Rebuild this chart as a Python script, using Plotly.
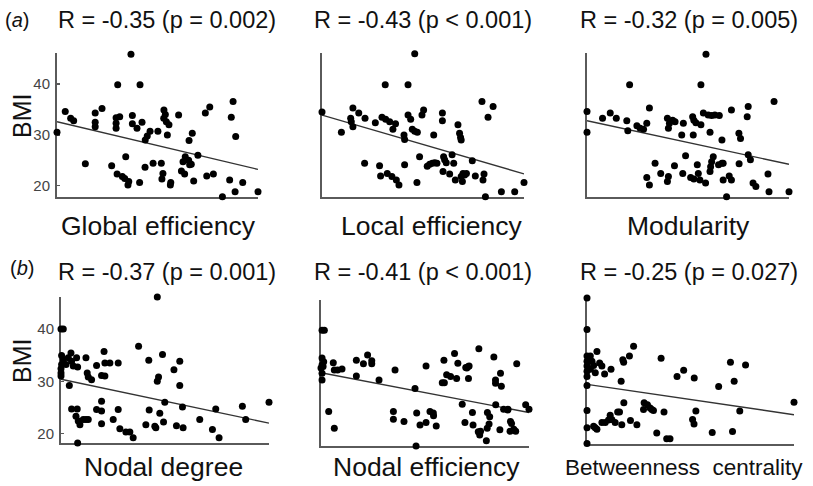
import plotly.graph_objects as go

# ---------------- data (x in % of axis length, y = BMI) ----------------
ge_x = [0, 4.1, 6.8, 8.3, 14.1, 19.0, 19.0, 19.0, 22.4, 27.2, 29.9, 30.2, 29.4, 29.4, 29.4,
        31.2, 32.5, 33.7, 34.2, 35.3, 35.7, 36.8, 37.5, 37.5, 39.8, 41.1, 41.3, 42.3, 43.8,
        43.9, 44.9, 46.3, 47.8, 50.2, 51.9, 52.2, 52.7, 53.1, 53.2, 53.9, 54.4, 54.9, 55.7,
        56.4, 56.6, 60.5, 61.9, 62.7, 63.5, 63.8, 65.5, 65.7, 67.3, 66.0, 66.8, 68.0, 70.1,
        73.8, 74.5, 76.0, 77.8, 82.3, 85.9, 86.7, 87.6, 88.6, 88.9, 92.4, 100]
ge_y = [30.5, 34.6, 33.3, 32.8, 24.3, 34.3, 32.5, 31.6, 35.2, 23.9, 22.3, 39.9, 33.4, 32.3, 31.3,
        33.6, 21.8, 21.4, 25.7, 20.1, 20.8, 45.9, 33.8, 32.2, 31.3, 20.6, 39.9, 32.5, 23.6,
        29.0, 29.8, 30.7, 24.4, 30.7, 24.4, 21.3, 22.4, 33.3, 34.9, 34.0, 32.6, 30.0, 32.0,
        20.1, 20.6, 33.9, 22.9, 24.7, 22.3, 25.7, 25.0, 28.9, 30.3, 24.1, 24.2, 20.9, 26.0,
        34.3, 21.9, 35.5, 22.3, 17.8, 21.1, 33.5, 36.6, 18.8, 29.7, 20.6, 18.8]
ge_fit = [32.6, 23.2]

le_x = [0, 9.6, 14.2, 15.3, 14.5, 15.3, 18.2, 21.3, 21.1, 26.4, 28.5, 29.0, 29.7, 31.3, 31.5,
        32.3, 33.5, 34.6, 35.1, 36.4, 36.8, 38.1, 40.6, 40.9, 40.9, 42.6, 42.6, 43.9, 44.7,
        45.9, 47.2, 45.9, 47.0, 48.3, 49.5, 50.3, 52.1, 53.3, 54.6, 55.8, 56.9, 55.3, 59.6,
        59.6, 59.9, 60.2, 60.7, 61.5, 63.2, 64.4, 65.2, 66.0, 67.3, 68.1, 68.6, 68.9, 68.9,
        69.5, 69.8, 70.6, 71.5, 74.4, 75.9, 79.2, 80.2, 79.7, 80.9, 82.2, 84.7, 88.8, 95.4, 100]
le_y = [34.5, 30.5, 33.3, 35.3, 32.6, 31.6, 34.3, 33.3, 24.4, 32.4, 23.9, 21.9, 33.5, 39.9, 33.1,
        22.4, 32.6, 21.8, 31.1, 32.2, 21.1, 20.1, 30.0, 29.1, 24.1, 39.9, 33.9, 33.1, 31.1,
        30.7, 30.5, 46.0, 20.6, 25.7, 33.9, 34.9, 23.8, 24.2, 24.4, 24.5, 24.4, 30.0, 34.3,
        32.8, 22.8, 25.7, 25.1, 24.5, 22.3, 26.1, 24.4, 21.1, 32.0, 30.3, 29.5, 29.0, 21.8,
        20.8, 22.4, 22.1, 22.4, 24.9, 21.9, 36.6, 22.3, 21.1, 17.8, 33.5, 35.6, 18.8, 18.8, 20.6]
le_fit = [33.9, 22.3]

mod_x = [0, 0, 7.7, 11.5, 14.5, 19.7, 20.2, 21.1, 24.7, 26.3, 28.0, 29.6, 29.6, 30.9, 30.9,
         33.7, 36.5, 39.8, 40.3, 40.8, 40.3, 39.8, 42.4, 43.6, 43.3, 46.9, 47.7, 47.4, 48.8,
         51.3, 52.9, 52.3, 52.9, 53.9, 56.4, 52.6, 54.6, 55.1, 55.9, 56.4, 57.6, 58.9, 58.7,
         60.0, 61.7, 63.3, 65.5, 60.9, 60.9, 61.2, 61.7, 62.5, 65.1, 66.8, 67.4, 66.8, 67.4,
         69.1, 70.4, 71.5, 71.5, 75.2, 76.0, 75.3, 79.3, 79.8, 79.8, 80.9, 82.2, 83.6, 89.6,
         90.1, 92.6, 100]
mod_y = [34.6, 30.5, 33.3, 34.3, 33.3, 32.8, 30.8, 39.9, 31.8, 31.3, 31.1, 32.3, 21.6, 35.3, 20.1,
         24.4, 22.4, 33.3, 31.3, 32.3, 21.8, 20.8, 32.9, 32.6, 23.9, 30.0, 32.3, 22.4, 25.9,
         21.6, 21.3, 33.6, 32.9, 32.4, 32.0, 30.0, 24.1, 22.4, 21.1, 39.9, 34.3, 45.9, 20.5,
         33.9, 33.8, 33.9, 33.8, 30.5, 22.8, 23.7, 24.7, 25.7, 24.1, 24.4, 24.4, 29.0, 21.1,
         17.8, 21.9, 34.9, 21.1, 30.3, 29.3, 24.3, 33.6, 35.6, 26.1, 25.1, 20.5, 19.8, 22.3,
         18.8, 36.6, 18.8]
mod_fit = [32.8, 24.2]

deg_x = [0, 1.1, 0.3, 1.1, 0.3, 0, 0, 0, 2.4, 3.5, 4.8, 5.1, 5.9, 7.5, 8.0, 4.0, 12.0, 12.6,
         13.1, 14.7, 17.1, 20.7, 19.5, 21.1, 21.1, 23.5, 27.5, 37.3, 42.2, 46.3, 46.9, 48.8,
         54.3, 57.1, 57.1, 46.3, 5.1, 7.8, 7.2, 8.3, 9.1, 10.7, 12.0, 13.1, 8.0, 17.1, 19.5,
         19.5, 19.5, 25.1, 27.5, 28.3, 31.2, 33.1, 34.7, 40.8, 42.4, 45.1, 45.6, 47.5, 49.3,
         49.9, 55.5, 58.7, 58.4, 66.7, 72.8, 74.4, 76.0, 87.2, 88.8, 100]
deg_y = [40.0, 40.0, 34.9, 34.1, 33.2, 32.4, 31.6, 31.0, 33.2, 34.5, 35.4, 33.8, 32.9, 34.5,
         32.7, 29.2, 34.5, 31.6, 30.8, 30.3, 33.0, 35.7, 31.1, 31.0, 33.5, 33.5, 33.5, 36.7,
         34.0, 30.0, 30.8, 35.1, 32.2, 33.8, 29.2, 46.1, 24.7, 24.7, 23.3, 22.4, 21.7, 22.7,
         22.7, 22.7, 18.2, 24.6, 24.3, 26.2, 21.9, 22.7, 24.6, 20.9, 20.3, 20.3, 19.2, 21.7,
         24.5, 21.4, 21.1, 23.9, 22.2, 26.0, 21.5, 21.1, 25.1, 22.7, 20.8, 24.7, 19.2, 25.2,
         22.7, 26.0]
deg_fit = [30.4, 22.0]

ne_x = [0.5, 1.6, 0.5, 0.5, 0, 1.0, 0.5, 0.5, 1.3, 3.7, 5.9, 6.4, 6.4, 8.0, 10.1, 17.0, 17.0,
        20.4, 22.4, 24.4, 24.4, 27.9, 35.6, 34.8, 34.8, 39.9, 45.2, 45.7, 46.0, 47.6, 50.5,
        50.5, 52.4, 54.0, 54.1, 55.4, 58.3, 59.3, 59.1, 60.4, 62.3, 64.2, 65.8, 67.9, 65.2,
        69.2, 70.1, 69.6, 70.8, 71.2, 70.9, 72.8, 73.1, 76.7, 76.3, 75.6, 75.9, 79.9, 80.0,
        81.1, 79.5, 80.8, 83.1, 83.9, 83.9, 84.0, 86.0, 86.3, 86.7, 87.8, 89.8, 89.9, 91.1,
        91.6, 90.9, 92.7, 93.6, 94.1, 98.4, 100]
ne_y = [40.3, 40.3, 35.0, 33.7, 33.1, 33.4, 32.1, 30.8, 34.3, 24.8, 34.1, 21.6, 32.7, 32.7,
        32.9, 34.6, 31.6, 33.9, 35.6, 34.5, 33.9, 30.8, 32.7, 24.8, 23.3, 22.9, 29.2, 18.2,
        24.5, 22.2, 33.5, 22.7, 24.8, 24.5, 24.0, 22.0, 30.3, 30.3, 34.6, 31.8, 31.5, 35.9,
        34.0, 26.2, 31.1, 22.7, 33.1, 33.2, 33.4, 33.5, 31.1, 24.6, 22.2, 21.0, 20.3, 20.9,
        36.8, 21.6, 24.6, 23.8, 19.2, 22.4, 35.2, 30.8, 30.2, 26.1, 21.3, 32.1, 29.6, 25.2,
        25.1, 25.2, 22.9, 22.5, 21.0, 21.4, 21.0, 33.9, 26.1, 25.2, 19.4]
ne_fit = [32.2, 24.6]

bc_x = [0, 0, 0, 0, 0, 0, 0, 0, 0, 0, 0, 1.6, 2.4, 1.6, 3.2, 4.0, 4.8, 6.1, 7.2, 8.5, 11.6,
        16.5, 17.3, 17.7, 20.5, 22.5, 35.8, 43.5, 46.7, 51.8, 63.6, 69.3, 71.1, 76.6, 100,
        3.2, 4.8, 4.0, 7.2, 8.8, 10.4, 11.2, 12.0, 13.6, 14.8, 15.7, 16.8, 17.8, 21.0, 24.1,
        27.3, 27.6, 29.2, 30.5, 31.3, 33.7, 32.1, 37.2, 38.5, 40.1, 51.0, 51.7, 52.6, 60.5,
        70.3, 73.8]
bc_y = [46.1, 40.1, 35.0, 34.0, 33.1, 32.1, 31.1, 29.4, 24.6, 21.3, 18.3, 35.0, 34.0, 32.5,
        33.2, 31.8, 35.9, 33.7, 33.1, 31.6, 32.5, 30.2, 34.3, 33.8, 35.0, 36.9, 34.6, 31.1,
        32.3, 30.8, 29.2, 33.8, 30.2, 33.3, 26.2, 21.6, 21.0, 21.3, 22.3, 22.3, 22.8, 23.7,
        22.9, 22.3, 24.3, 24.3, 21.9, 26.1, 22.7, 21.9, 24.8, 26.1, 25.7, 25.1, 24.8, 20.3,
        24.6, 24.3, 19.2, 19.2, 22.9, 22.0, 24.5, 20.4, 20.6, 24.5]
bc_fit = [29.6, 23.8]

titles = ["R = -0.35 (p = 0.002)", "R = -0.43 (p < 0.001)", "R = -0.32 (p = 0.005)",
          "R = -0.37 (p = 0.001)", "R = -0.41 (p < 0.001)", "R = -0.25 (p = 0.027)"]
xlabels = ["Global efficiency", "Local efficiency", "Modularity",
           "Nodal degree", "Nodal efficiency", "Betweenness\u00a0 centrality"]
ytick_vals = [20, 30, 40]
ytick_text = ["20", "30", "40"]
panel_tags = ["(<i>a</i>)", "(<i>b</i>)"]

panels = [(ge_x, ge_y, ge_fit), (le_x, le_y, le_fit), (mod_x, mod_y, mod_fit),
          (deg_x, deg_y, deg_fit), (ne_x, ne_y, ne_fit), (bc_x, bc_y, bc_fit)]

# ---------------- layout geometry (pixels) ----------------
W, H = 813, 486
# (x_left, x_right, y_top, y_bottom)
boxes = [(57, 258, 53, 197), (322, 524, 53, 197), (587, 789, 53, 197),
         (61, 269, 297, 443), (321, 529, 300, 446), (587, 794, 298, 444)]
yranges = [[17.75, 46.15]] * 3 + [[18.2, 46.1]] * 3
title_pos = [(167, 20), (423, 20), (689, 20), (167, 272), (423, 272), (689, 272)]
xlabel_pos = [(158, 226), (431, 226), (688, 226), (163, 467), (426, 467), (684, 467)]
xlabel_size = [26.5, 26.5, 26.5, 26.5, 26.5, 22.5]
bmi_pos = [(22, 116), (22, 361)]

FONT = "Liberation Sans, Arial, sans-serif"
AXC = "#5a5a5a"

fig = go.Figure()
layout = dict(width=W, height=H, margin=dict(l=0, r=0, t=0, b=0),
              paper_bgcolor="white", plot_bgcolor="white", showlegend=False,
              font=dict(family=FONT, color="#111"))
annotations = []

for i, ((px, py, fit), (x0, x1, yt, yb)) in enumerate(zip(panels, boxes)):
    n = i + 1
    xa = "x" if n == 1 else f"x{n}"
    ya = "y" if n == 1 else f"y{n}"
    fig.add_trace(go.Scatter(x=[0, 100], y=fit, mode="lines",
                             line=dict(color="#333333", width=1.4),
                             xaxis=xa, yaxis=ya, hoverinfo="skip"))
    fig.add_trace(go.Scatter(x=px, y=py, mode="markers",
                             marker=dict(color="black", size=7),
                             cliponaxis=False, xaxis=xa, yaxis=ya))
    left = (i % 3 == 0)
    layout["xaxis" if n == 1 else f"xaxis{n}"] = dict(
        domain=[x0 / W, x1 / W], range=[0, 100], anchor=ya,
        showline=True, linecolor=AXC, linewidth=2, showgrid=False, zeroline=False,
        showticklabels=False, ticks="", layer="below traces", fixedrange=True)
    layout["yaxis" if n == 1 else f"yaxis{n}"] = dict(
        domain=[1 - yb / H, 1 - yt / H], range=yranges[i], anchor=xa,
        showline=True, linecolor=AXC, linewidth=2, showgrid=False, zeroline=False,
        tickvals=ytick_vals, ticktext=ytick_text,
        showticklabels=left, ticks="inside" if left else "", ticklen=3,
        tickcolor=AXC, tickwidth=1.5, ticklabelstandoff=2,
        tickfont=dict(size=15, color="#444", family=FONT),
        layer="below traces", fixedrange=True)
    tx, ty = title_pos[i]
    annotations.append(dict(text=titles[i], x=tx / W, y=1 - ty / H, xref="paper", yref="paper",
                            xanchor="center", yanchor="middle", showarrow=False,
                            font=dict(size=23.5, color="#111", family=FONT)))
    lx, ly = xlabel_pos[i]
    annotations.append(dict(text=xlabels[i], x=lx / W, y=1 - ly / H, xref="paper", yref="paper",
                            xanchor="center", yanchor="middle", showarrow=False,
                            font=dict(size=xlabel_size[i], color="#111", family=FONT)))

for bx, by in bmi_pos:
    annotations.append(dict(text="BMI", x=bx / W, y=1 - by / H, xref="paper", yref="paper",
                            xanchor="center", yanchor="middle", showarrow=False, textangle=-90,
                            font=dict(size=25, color="#111", family=FONT)))

annotations.append(dict(text=panel_tags[0], x=3 / W, y=1 - 20 / H, xref="paper", yref="paper",
                        xanchor="left", yanchor="middle", showarrow=False,
                        font=dict(size=20, color="#111", family=FONT)))
annotations.append(dict(text=panel_tags[1], x=8 / W, y=1 - 268 / H, xref="paper", yref="paper",
                        xanchor="left", yanchor="middle", showarrow=False,
                        font=dict(size=20, color="#111", family=FONT)))

layout["annotations"] = annotations
fig.update_layout(**layout)
fig.write_html("out.html", config={"displayModeBar": False, "staticPlot": True},
               post_script="document.body.style.margin='0';document.body.style.overflow='hidden';")
